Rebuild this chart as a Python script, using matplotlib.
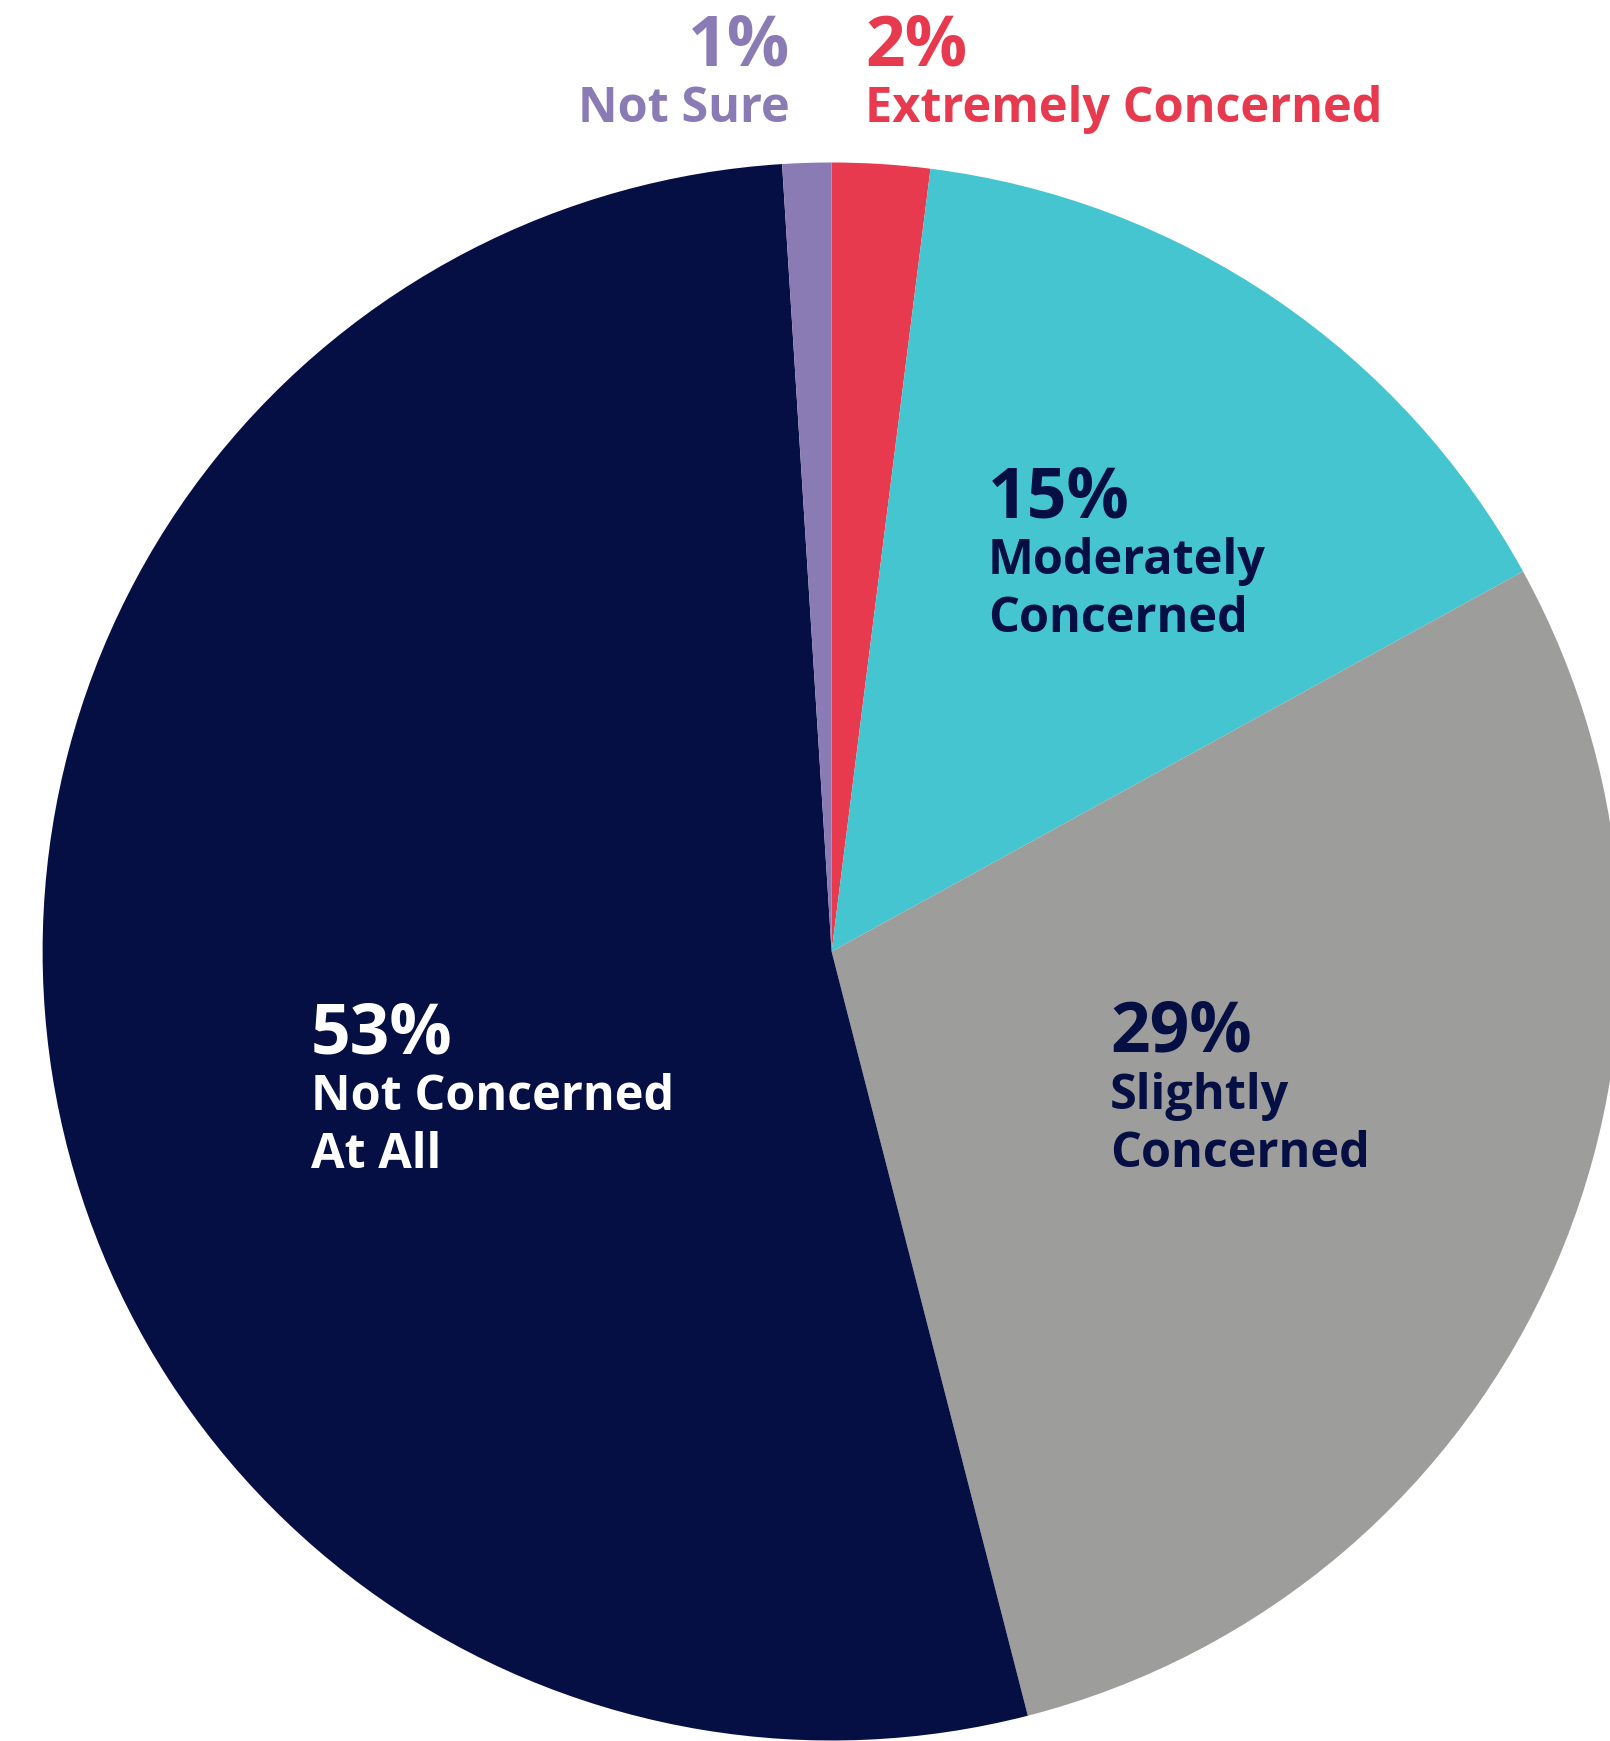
import matplotlib
matplotlib.use("Agg")
import matplotlib.pyplot as plt

# Survey responses, clockwise from 12 o'clock
categories = ["Extremely Concerned", "Moderately Concerned", "Slightly Concerned",
              "Not Concerned At All", "Not Sure"]
values = [2, 15, 29, 53, 1]
colors = ["#E83A4E", "#44C5CF", "#9D9D9C", "#060F43", "#8B7BB5"]

W, H = 1610, 1741
DPI = 100
fig = plt.figure(figsize=(W / DPI, H / DPI), dpi=DPI)
fig.patch.set_facecolor("white")

# Pie geometry in pixels (top-left origin)
cx, cy, r = 831.6, 951.5, 789.0
ax = fig.add_axes([(cx - r) / W, (H - cy - r) / H, 2 * r / W, 2 * r / H])
ax.pie(values, colors=colors, startangle=90, counterclock=False,
       radius=1.0, wedgeprops=dict(linewidth=0))
ax.set_xlim(-1, 1)
ax.set_ylim(-1, 1)
ax.set_aspect("equal")
ax.axis("off")

FONT = "Open Sans"
NUM_SIZE = 50
LBL_SIZE = 35


def put(x, y, s, size, color, ha="left"):
    fig.text(x / W, 1 - y / H, s, fontsize=size, color=color, ha=ha,
             va="baseline", family=FONT, fontweight="bold")


def label(x, y0, pct, lines, color, ha="left", gap=58):
    put(x, y0, f"{pct}%", NUM_SIZE, color, ha)
    y = y0 + 57
    for ln in lines:
        put(x, y, ln, LBL_SIZE, color, ha)
        y += gap


navy = "#060F43"
# Outside labels for the two thin slices
label(790, 65, values[4], ["Not Sure"], colors[4], ha="right")
label(865, 65, values[0], ["Extremely Concerned"], colors[0])
# Inside labels
label(988, 517, values[1], ["Moderately", "Concerned"], navy)
label(1110, 1052, values[2], ["Slightly", "Concerned"], navy)
label(311, 1053, values[3], ["Not Concerned", "At All"], "white")

fig.savefig("out.png", dpi=DPI, facecolor="white")
